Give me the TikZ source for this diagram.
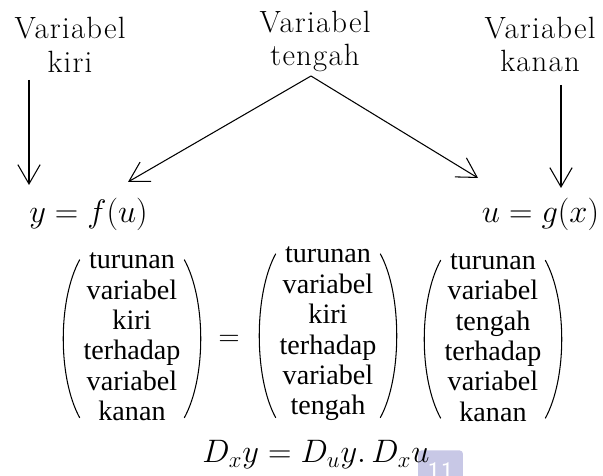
\RequirePackage{fix-cm}
\documentclass[tikz,border=0pt]{standalone}
\usepackage{fontspec}
\usepackage{tikz}
\usetikzlibrary{arrows.meta}
\newfontfamily\kurungfont{Liberation Serif}
\newfontfamily\judulfont[LetterSpace=4]{Latin Modern Roman}
\definecolor{badge}{HTML}{C8C8E6}

% round brackets on both sides of a node
\newcommand{\kurung}[1]{%
  \draw[paren] ([yshift=-4pt]#1.north west) .. controls +(-22,-40) and +(-22,40) .. ([yshift=2pt]#1.south west);
  \draw[paren] ([yshift=-4pt]#1.north east) .. controls +(22,-40) and +(22,40) .. ([yshift=2pt]#1.south east);
}

\begin{document}
\begin{tikzpicture}[
  x=0.02cm, y=0.02cm,
  judul/.style={align=center, inner sep=0pt, font=\judulfont\fontsize{17.5}{19.3}\selectfont},
  rumus/.style={inner sep=0pt, anchor=base, font=\fontsize{18.5}{22}\selectfont},
  isi/.style={align=center, inner xsep=2pt, inner ysep=0pt,
              font=\kurungfont\fontsize{16}{17.3}\selectfont},
  paren/.style={line width=0.6pt},
  arr/.style={-{Straight Barb[length=11pt,width=12.7pt]}, line width=0.6pt},
  badgebox/.style={fill=badge, rounded corners=2pt, text=white, inner sep=0pt,
              minimum width=25.6pt, minimum height=25pt,
              font=\sffamily\fontsize{16}{16}\selectfont}
]
\useasboundingbox (0,0) rectangle (603,476);

% top labels
\node[judul] (kiri) at (70,431) {Variabel\\kiri};
\node[judul] (tengah) at (315,434.5) {Variabel\\tengah};
\node[judul] (kanan) at (540,431.5) {Variabel\\kanan};

% functions
\node[rumus] (fy) at (88.5,253) {$y = f(u)$};
\node[rumus] (gx) at (540.5,253) {$u = g(x)$};

% arrow ends
\coordinate (kiriA) at (29,396);
\coordinate (kiriB) at (29,291);
\coordinate (puncak) at (311,400);
\coordinate (kiriC) at (128,294);
\coordinate (kananC) at (478,298);
\coordinate (kananA) at (561,391);
\coordinate (kananB) at (561,288);

\draw[arr] (kiriA) -- (kiriB);
\draw[arr] (puncak) -- (kiriC);
\draw[arr] (puncak) -- (kananC);
\draw[arr] (kananA) -- (kananB);

% chain rule in words
\node[isi] (g1) at (132,139) {turunan\\variabel\\kiri\\terhadap\\variabel\\kanan};
\node[rumus, anchor=center, font=\fontsize{16}{16}\selectfont] (sama) at (229,136) {$=$};
\node[isi] (g2) at (328,142) {turunan\\variabel\\kiri\\terhadap\\variabel\\tengah};
\node[isi] (g3) at (493,138.5) {turunan\\variabel\\tengah\\terhadap\\variabel\\kanan};
\kurung{g1}
\kurung{g2}
\kurung{g3}

% page badge
\node[badgebox, anchor=north] (hal) at (440.5,26) {11};

\node[rumus, anchor=base] (dx) at (316,13) {$D_x y = D_u y.\,D_x u$};
\end{tikzpicture}
\end{document}
